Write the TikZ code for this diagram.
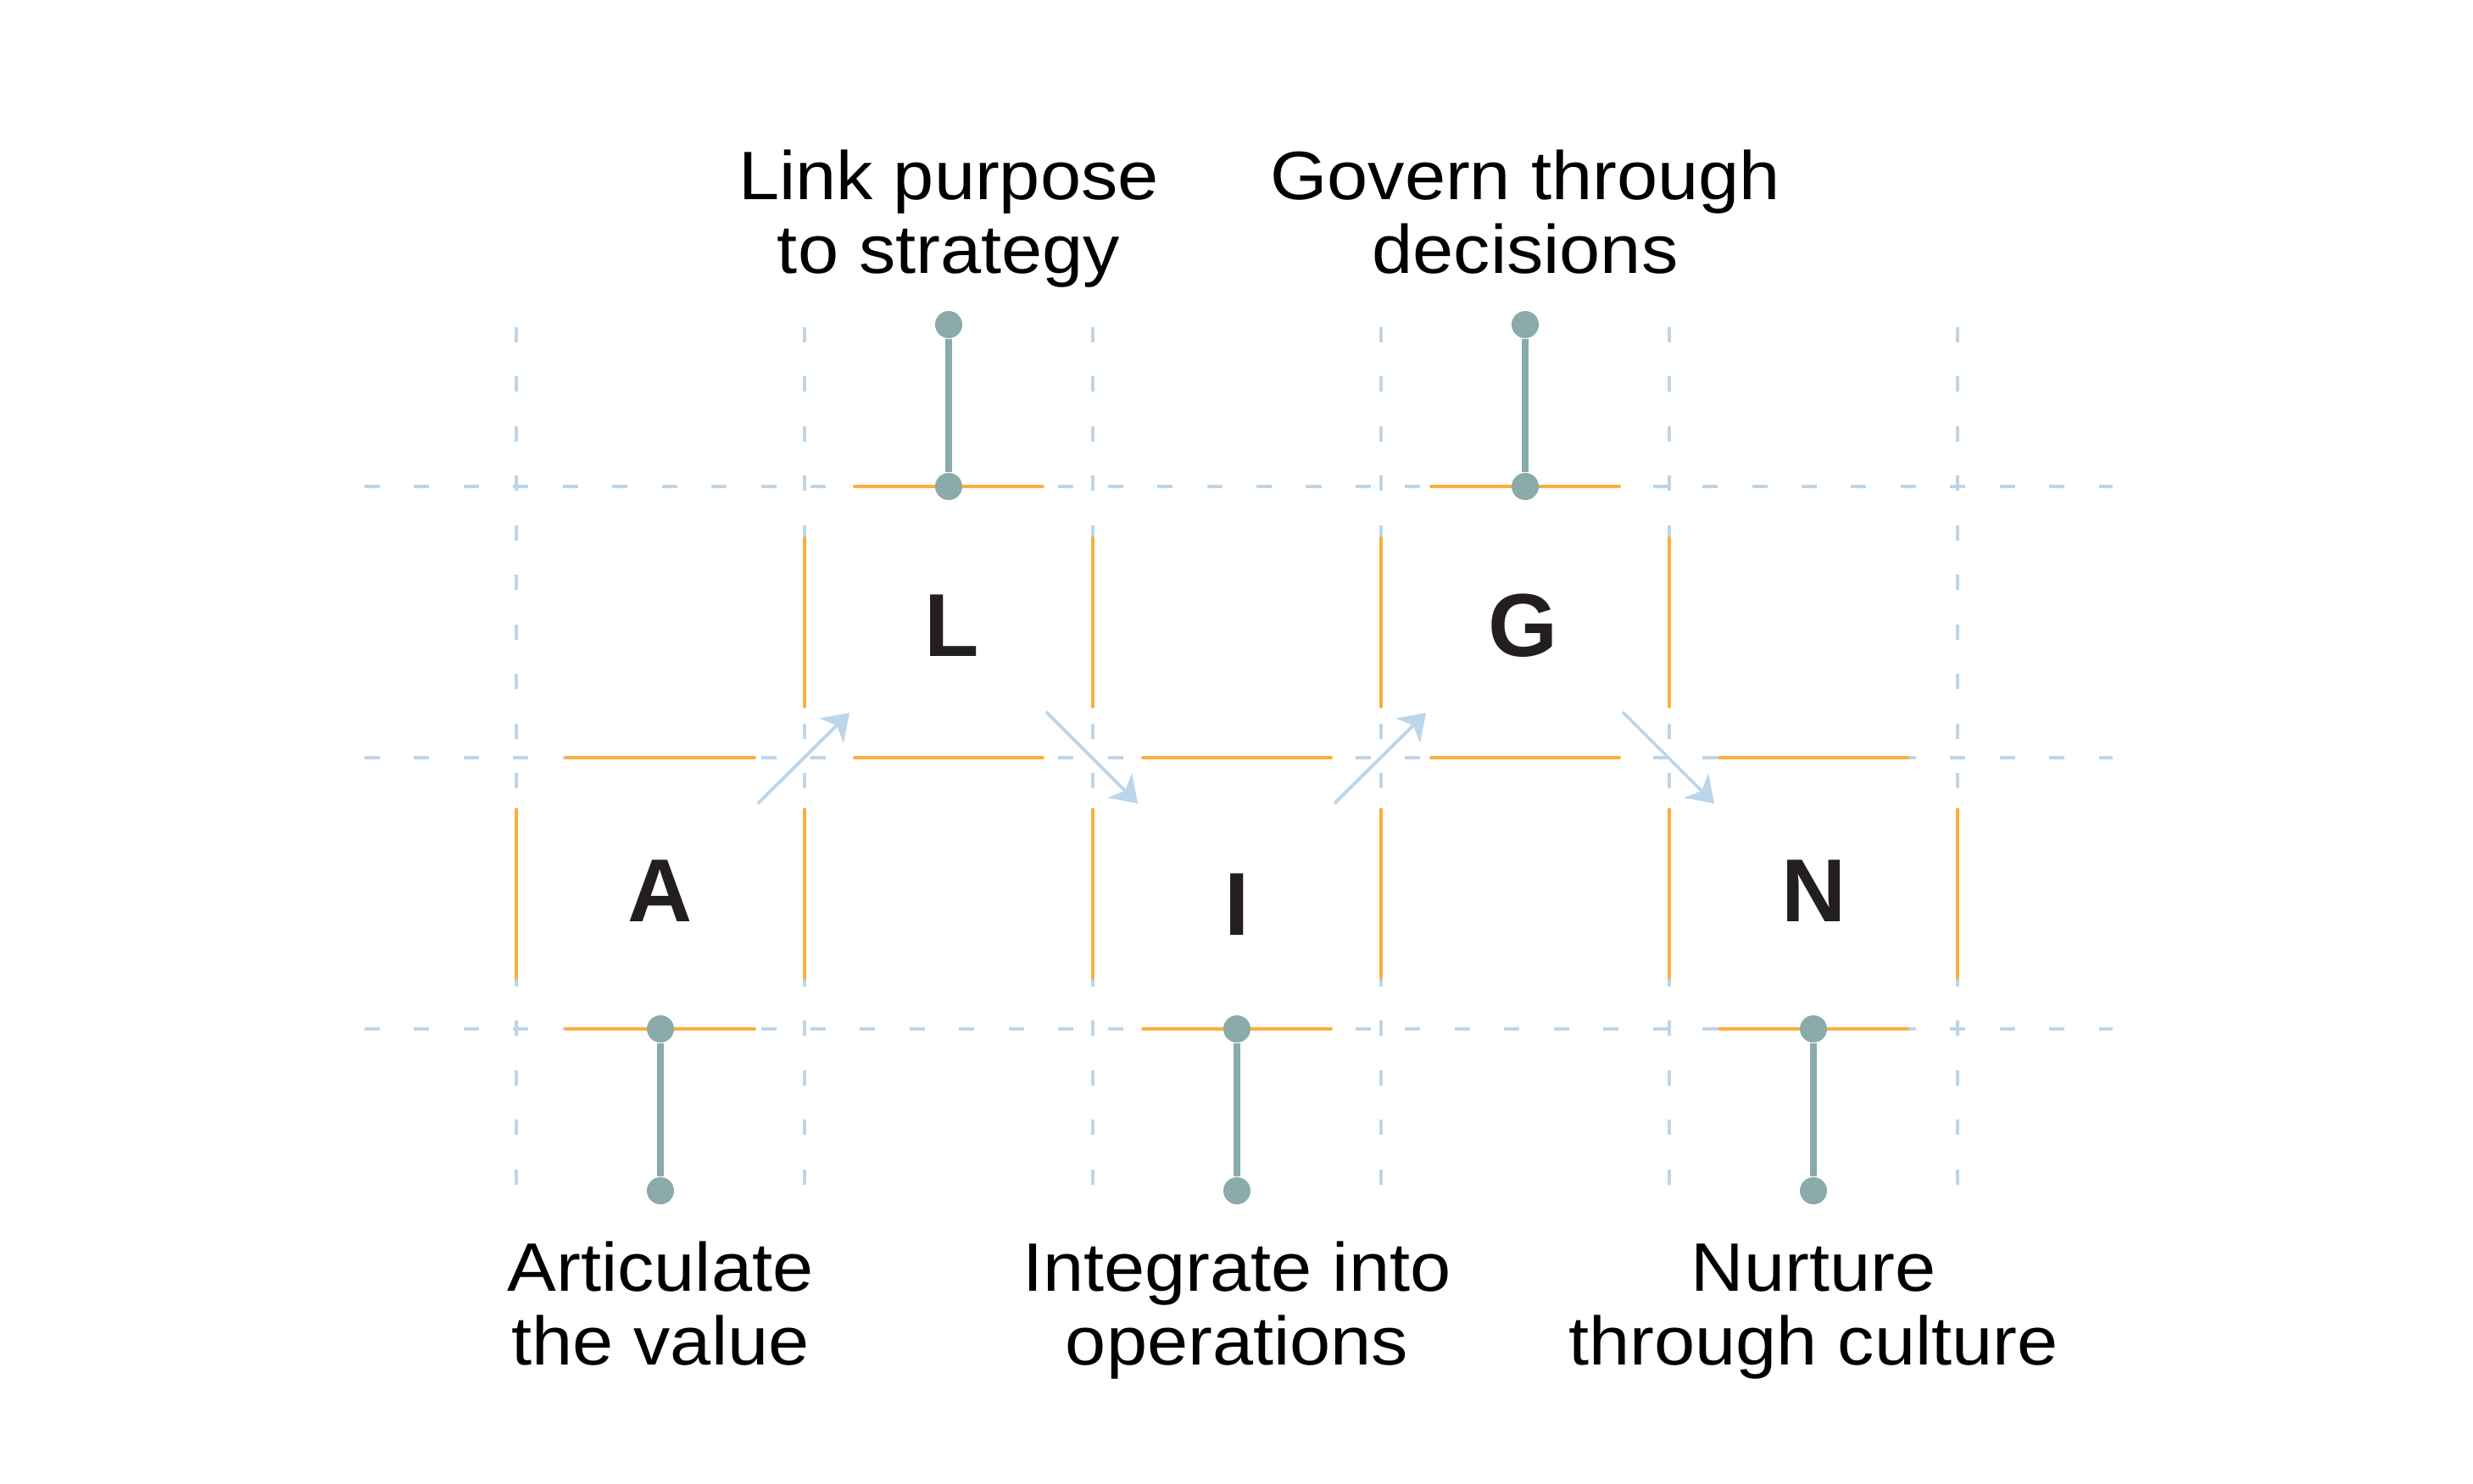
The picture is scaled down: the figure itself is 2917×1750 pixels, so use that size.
\documentclass[tikz,border=0pt]{standalone}
\usepackage{fontspec}
\setmainfont{Liberation Sans}[FakeStretch=1.07]
\newfontfamily\letterfont{Liberation Sans}
\usetikzlibrary{arrows.meta}
\definecolor{gridblue}{HTML}{BDD5E8}
\definecolor{edgeorange}{HTML}{FBAE40}
\definecolor{stemgrey}{HTML}{8AAAAB}
\definecolor{letterdark}{HTML}{231F20}
\begin{document}
\begin{tikzpicture}[x=0.01cm,y=-0.01cm,
  gridline/.style={draw=gridblue, line width=1.14pt, dash pattern=on 5.12pt off 11.5pt},
  edgeseg/.style={draw=edgeorange, line width=1.1pt, line cap=round},
  flow/.style={draw=gridblue, line width=1.1pt, -{Stealth[length=8.5pt,width=11.5pt,inset=2.5pt]}},
  dot/.style={circle, fill=stemgrey, minimum size=0.32cm, inner sep=0pt},
  stem/.style={draw=stemgrey, line width=2.3pt},
  letter/.style={font=\letterfont\bfseries\fontsize{30}{30}\selectfont, text=letterdark, anchor=base, inner sep=0pt},
  caption/.style={font=\fontsize{23}{24.5}\selectfont, align=center, anchor=base, inner sep=0pt}]

\useasboundingbox[fill=white] (0,0) rectangle (2917,1750);

% dashed guide grid
\foreach \x in {609,949,1289,1629,1969,2309}
  \draw[gridline] (\x,386) -- (\x,1400);
\foreach \y in {574,894,1214}
  \draw[gridline] (430,\y) -- (2492,\y);

% orange box edges
\foreach \x/\y in {609/894, 949/574, 1289/894, 1629/574, 1969/894} {
  \draw[edgeseg] ({\x+59},\y) -- ({\x+281},\y);
  \draw[edgeseg] ({\x+59},{\y+320}) -- ({\x+281},{\y+320});
  \draw[edgeseg] (\x,{\y+61}) -- (\x,{\y+260});
  \draw[edgeseg] ({\x+340},{\y+61}) -- ({\x+340},{\y+260});
}

% flow arrows
\coordinate (f1a) at (894,948);  \coordinate (f1b) at (1002,841);
\coordinate (f2a) at (1234,840); \coordinate (f2b) at (1342,948);
\coordinate (f3a) at (1574,948); \coordinate (f3b) at (1682,841);
\coordinate (f4a) at (1914,840); \coordinate (f4b) at (2022,948);
\draw[flow] (f1a) -- (f1b);
\draw[flow] (f2a) -- (f2b);
\draw[flow] (f3a) -- (f3b);
\draw[flow] (f4a) -- (f4b);

% stems with dots
\node[dot] (Atop) at (779,1214) {};
\node[dot] (Abot) at (779,1405) {};
\node[dot] (Ltop) at (1119,383) {};
\node[dot] (Lbot) at (1119,574) {};
\node[dot] (Itop) at (1459,1214) {};
\node[dot] (Ibot) at (1459,1405) {};
\node[dot] (Gtop) at (1799,383) {};
\node[dot] (Gbot) at (1799,574) {};
\node[dot] (Ntop) at (2139,1214) {};
\node[dot] (Nbot) at (2139,1405) {};
\draw[stem] (Atop) -- (Abot);
\draw[stem] (Ltop) -- (Lbot);
\draw[stem] (Itop) -- (Ibot);
\draw[stem] (Gtop) -- (Gbot);
\draw[stem] (Ntop) -- (Nbot);

% letters
\node[letter] (A) at (779,1087) {A};
\node[letter] (L) at (1123,774) {L};
\node[letter] (I) at (1459,1103) {I};
\node[letter] (G) at (1797,774) {G};
\node[letter] (N) at (2140,1087) {N};

% captions (anchor = baseline of last line)
\node[caption] (capL) at (1119,322) {Link purpose\\to strategy};
\node[caption] (capG) at (1799,322) {Govern through\\decisions};
\node[caption] (capA) at (779,1610) {Articulate\\the value};
\node[caption] (capI) at (1459,1610) {Integrate into\\operations};
\node[caption] (capN) at (2139,1610) {Nurture\\through culture};
\end{tikzpicture}
\end{document}
